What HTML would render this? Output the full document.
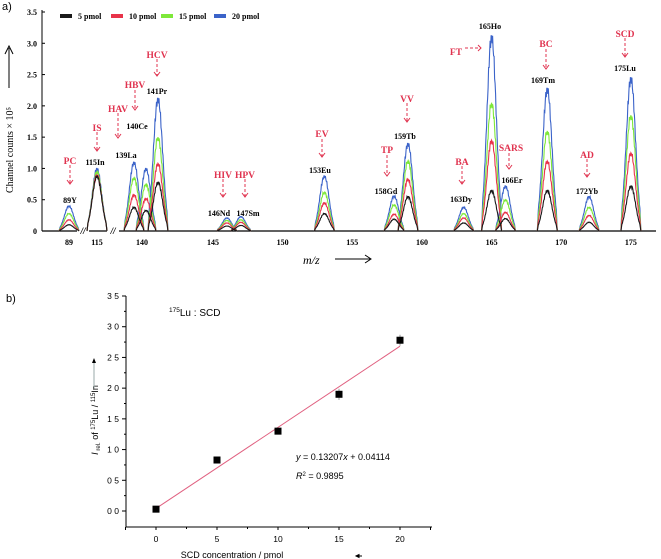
<!DOCTYPE html>
<html><head><meta charset="utf-8"><style>
body{margin:0;background:#fff;width:661px;height:559px;overflow:hidden}
svg{display:block}
.ser{font-family:"Liberation Serif",serif;font-weight:bold}
.san{font-family:"Liberation Sans",sans-serif}
</style></head><body>
<svg id="svg" width="661" height="559" viewBox="0 0 661 559">
<text x="2" y="10" class="san" font-size="11">a)</text>
<text x="6" y="302" class="san" font-size="11">b)</text>
<g id="topchart"></g>
<g id="botchart"></g>
</svg>
<script>
// ---- Top chart data ----
const elements=["89Y","115In","139La","140Ce","141Pr","146Nd","147Sm","153Eu","158Gd","159Tb","163Dy","165Ho","166Er","169Tm","172Yb","175Lu"];
const diseases=["PC","IS","HAV","HBV","HCV","HIV","HPV","EV","TP","VV","BA","FT","SARS","BC","AD","SCD"];
const masses=[89,115,139,140,141,146,147,153,158,159,163,165,166,169,172,175];
const s20=[0.40,1.00,1.10,1.00,2.12,0.21,0.23,0.88,0.56,1.40,0.38,3.12,0.72,2.28,0.55,2.45];
const s15=[0.28,0.95,0.85,0.75,1.50,0.17,0.18,0.62,0.42,1.12,0.28,2.05,0.50,1.60,0.38,1.85];
const s10=[0.18,0.90,0.58,0.52,1.08,0.13,0.14,0.45,0.27,0.83,0.21,1.45,0.30,1.12,0.25,1.25];
const s5=[0.10,0.88,0.38,0.33,0.78,0.08,0.09,0.28,0.19,0.55,0.13,0.65,0.20,0.65,0.14,0.72];
const yTicks=[0,0.5,1.0,1.5,2.0,2.5,3.0,3.5];
const xTickVals=[140,145,150,155,160,165,170,175];
// ---- Bottom chart data ----
const conc=[0,5,10,15,20];
const ratio=[0.03,0.83,1.30,1.90,2.78];
const ratioErr=[0.02,0.03,0.04,0.09,0.09];
const slope=0.13207, intercept=0.04114;
const bYTicks=[0,0.5,1.0,1.5,2.0,2.5,3.0,3.5];
const bXTicks=[0,5,10,15,20];

// label layout (pixel positions, not data): [textX, textY, arrowX, arrowY1, arrowY2, elemX, elemY]
const labelPos={
 89:[70,161,70,165,184,70,200],115:[97,128,97,132,151,95,162],
 139:[118,109,118,113,138,126,155],140:[135,85,135,90,110,137,126],141:[157,55,157,59,76,157,91],
 146:[223,175,223,179,197,219,213],147:[245,175,245,179,197,248,213],153:[322,134,322,139,157,320,170],
 158:[387,150,387,155,176,386,191],159:[407,99,407,103,122,405,136],163:[462,162,462,166,184,461,199],
 165:[456,52,465,481,48,490,26],166:[511,148,509,153,169,512,180],169:[546,44,546,49,69,543,80],
 172:[587,155,587,159,177,587,191],175:[625,34,625,38,57,625,68]};

const NS="http://www.w3.org/2000/svg";
function mk(p,t,a,txt){const e=document.createElementNS(NS,t);for(const k in a)e.setAttribute(k,a[k]);if(txt!=null)e.textContent=txt;p.appendChild(e);return e;}
const topG=document.getElementById('topchart'), botG=document.getElementById('botchart');

const X=m=>{if(m===89)return 69;if(m===115)return 97;if(m<=141)return 158-(141-m)*12;return 213+(m-145)*13.93;};
const Y=v=>231-v*(219/3.5);
let e;
e=mk(topG,'line',{x1:42,y1:231,x2:656,y2:231,stroke:'#000','stroke-width':1.2});


e=mk(topG,'line',{x1:42,y1:10,x2:42,y2:231,stroke:'#000','stroke-width':1});


yTicks.forEach(v=>{
  mk(topG,'line',{x1:42,y1:Y(v),x2:45,y2:Y(v),stroke:'#000'});
  e=mk(topG,'text',{x:37,y:Y(v)+3,'text-anchor':'end','font-size':8,class:'ser'},v===0?'0':v.toFixed(1));
  
  
});
[89,115].concat(xTickVals).forEach(v=>{
  const tx=v===140?142:X(v);
  e=mk(topG,'text',{x:tx,y:245,'text-anchor':'middle','font-size':8,class:'ser'},String(v));
  
  
});
[83,113].forEach(bx=>{
  mk(topG,'rect',{x:bx-6,y:226,width:12,height:9,fill:'#fff'});
  e=mk(topG,'text',{x:bx,y:234,'text-anchor':'middle','font-size':9,'font-style':'italic',class:'san'},'//');
  
  
});
e=mk(topG,'text',{transform:'translate(13,150) rotate(-90)','text-anchor':'middle','font-size':10,'font-family':'Liberation Serif,serif'},'Channel counts × 10⁵');


mk(topG,'line',{x1:9,y1:88,x2:9,y2:48,stroke:'#000'});
mk(topG,'path',{d:'M5,54 L9,46 L13,54',fill:'none',stroke:'#000'});
e=mk(topG,'text',{x:303,y:264,'font-size':12,'font-style':'italic','font-family':'Liberation Serif,serif'},'m/z');


mk(topG,'line',{x1:335,y1:259,x2:370,y2:259,stroke:'#000'});
mk(topG,'path',{d:'M365,255 L371,259 L365,263',fill:'none',stroke:'#000'});
const cols=['#1a1a1a','#e8334a','#7ee83a','#3b63c9'];
const lnames=['5 pmol','10 pmol','15 pmol','20 pmol'];
const lx=[60,111,161,214];
lnames.forEach((n,i)=>{
  e=mk(topG,'rect',{x:lx[i],y:14,width:12,height:4,fill:cols[i]});
  
  
  e=mk(topG,'text',{x:lx[i]+18,y:19,'font-size':8,class:'ser'},n);
  
  
});
const series=[s5,s10,s15,s20];
[3,2,1,0].forEach(si=>{
  masses.forEach((m,i)=>{
    const cx=X(m),h=series[si][i],half=9,sg=4.6;
    let d='M'+(cx-half-1).toFixed(1)+','+Y(0);
    for(let k=-18;k<=18;k++){
      const dx=k/18*half, g=Math.exp(-(dx*dx)/(2*sg*sg))*(1+0.04*Math.sin(k*2.3+si));
      d+='L'+(cx+dx).toFixed(1)+','+Y(h*Math.min(1,g)).toFixed(1);
    }
    d+='L'+(cx+half+1).toFixed(1)+','+Y(0);
    e=mk(topG,'path',{d:d,fill:'none',stroke:cols[si],'stroke-width':1.1});
    
    
  });
});
const red='#e0334f';
masses.forEach((m,i)=>{
  const p=labelPos[m];
  e=mk(topG,'text',{x:p[5],y:p[6]+3,'text-anchor':'middle','font-size':8,class:'ser'},elements[i]);
  
  
  e=mk(topG,'text',{x:p[0],y:p[1]+3,'text-anchor':'middle','font-size':9.5,fill:red,class:'ser'},diseases[i]);
  
  
  if(m===165){
    mk(topG,'line',{x1:p[2],y1:p[4],x2:p[3],y2:p[4],stroke:red,'stroke-dasharray':'3,2'});
    mk(topG,'path',{d:`M${p[3]-3},${p[4]-3} L${p[3]},${p[4]} L${p[3]-3},${p[4]+3}`,fill:'none',stroke:red});
  } else {
    mk(topG,'line',{x1:p[2],y1:p[3],x2:p[2],y2:p[4],stroke:red,'stroke-dasharray':'3,2'});
    mk(topG,'path',{d:`M${p[2]-3},${p[4]-4} L${p[2]},${p[4]} L${p[2]+3},${p[4]-4}`,fill:'none',stroke:red});
  }
});

// ---- Bottom chart ----
const BX=v=>156+v*(244/20);
const BY=v=>511-v*(215/3.5);
e=mk(botG,'line',{x1:126,y1:296,x2:126,y2:527,stroke:'#000'});


e=mk(botG,'line',{x1:126,y1:527,x2:432,y2:527,stroke:'#000'});


bYTicks.forEach(v=>{
  mk(botG,'line',{x1:122,y1:BY(v),x2:126,y2:BY(v),stroke:'#000'});
  if(v<3.5) mk(botG,'line',{x1:124,y1:BY(v+0.25),x2:126,y2:BY(v+0.25),stroke:'#000'});
  e=mk(botG,'text',{x:119,y:BY(v)+3,'text-anchor':'end','font-size':8.5,class:'san'},v.toFixed(1).replace('.',' '));
  
  
});
[-2.5].concat(bXTicks).concat([22.5]).forEach(v=>{
  mk(botG,'line',{x1:BX(v),y1:527,x2:BX(v),y2:530,stroke:'#000'});
});
bXTicks.forEach(v=>{
  mk(botG,'line',{x1:BX(v+2.5),y1:527,x2:BX(v+2.5),y2:529,stroke:'#000'});
  e=mk(botG,'text',{x:BX(v),y:542,'text-anchor':'middle','font-size':8.5,class:'san'},String(v));
  
  
});
e=mk(botG,'text',{x:232,y:558,'text-anchor':'middle','font-size':9,class:'san'},'SCD concentration / pmol');


mk(botG,'path',{d:'M356,556 L362,556 M356,556 L359,554.5 L359,557.5Z',stroke:'#000',fill:'#000'});
e=mk(botG,'text',{transform:'translate(98,420) rotate(-90)','text-anchor':'middle','font-size':9,class:'san'});
e.innerHTML='<tspan font-style="italic">I</tspan><tspan font-size="6" dy="2"> rel.</tspan><tspan dy="-2"> of </tspan><tspan font-size="6" dy="-3">175</tspan><tspan dy="3">Lu / </tspan><tspan font-size="6" dy="-3">115</tspan><tspan dy="3">In</tspan>';


mk(botG,'line',{x1:94,y1:388,x2:94,y2:362,stroke:'#9aa'});
mk(botG,'path',{d:'M92,363 L94,358 L96,363Z',fill:'#000'});
e=mk(botG,'text',{x:169,y:316,'font-size':10,class:'san'});
e.innerHTML='<tspan font-size="6.5" dy="-4">175</tspan><tspan dy="4">Lu : SCD</tspan>';


e=mk(botG,'line',{x1:BX(0),y1:BY(intercept),x2:BX(20),y2:BY(slope*20+intercept),stroke:'#e06080','stroke-width':1});


conc.forEach((c,i)=>{
  mk(botG,'line',{x1:BX(c),y1:BY(ratio[i]-ratioErr[i]),x2:BX(c),y2:BY(ratio[i]+ratioErr[i]),stroke:'#999'});
  e=mk(botG,'rect',{x:BX(c)-3.5,y:BY(ratio[i])-3.5,width:7,height:7,fill:'#000'});
  
  
});
e=mk(botG,'text',{x:296,y:460,'font-size':9,class:'san'});
e.innerHTML='<tspan font-style="italic">y</tspan> = 0.13207<tspan font-style="italic">x</tspan> + 0.04114';


e=mk(botG,'text',{x:296,y:479,'font-size':9,class:'san'});
e.innerHTML='<tspan font-style="italic">R</tspan><tspan font-size="6" dy="-3">2</tspan><tspan dy="3"> = 0.9895</tspan>';


</script>
</body></html>
